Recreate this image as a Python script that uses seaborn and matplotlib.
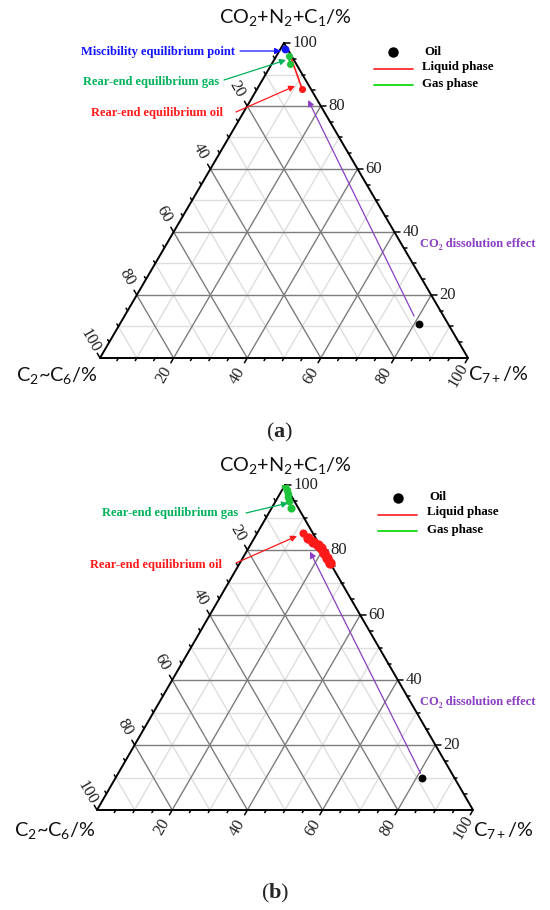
import numpy as np
import pandas as pd
import matplotlib
matplotlib.use("Agg")
import matplotlib.pyplot as plt
import seaborn as sns
from matplotlib.lines import Line2D

# ---------------- data (ternary %, T = CO2+N2+C1, L = C2~C6, R = C7+) -------------
tick_values = [20, 40, 60, 80, 100]
top_label = "CO$_2$+N$_2$+C$_1$/%"
left_label = "C$_2$~C$_6$/%"
right_label = "C$_{7+}$/%"

# panel (a)
a_oil_T, a_oil_L, a_oil_R = [10.8], [7.9], [81.3]
a_mep_T, a_mep_L, a_mep_R = [98.2], [0.6], [1.2]
a_gas_T, a_gas_L, a_gas_R = [95.9, 93.4], [0.7, 1.7], [3.4, 4.9]
a_liq_T, a_liq_L, a_liq_R = [94.9, 85.3], [0.5, 2.4], [4.6, 12.3]
a_co2_T, a_co2_L, a_co2_R = [13.3, 81.9], [8.0, 2.5], [78.7, 15.6]

# panel (b)
b_oil_T, b_oil_L, b_oil_R = [9.9], [8.5], [81.6]
b_gas_T = [99.7, 98.5, 97.2, 96.2, 95.2]
b_gas_L = [0.1, 0.3, 0.7, 1.0, 1.3]
b_gas_R = [0.2, 1.2, 2.1, 2.8, 3.5]
b_gasend_T, b_gasend_L, b_gasend_R = [92.8], [2.1], [5.1]
b_liqpt_T, b_liqpt_L, b_liqpt_R = [85.1], [2.6], [12.3]
b_liq_T = [83.6, 82.6, 81.5, 80.5, 79.0, 77.4, 75.9]
b_liq_L = [2.0, 1.2, 0.4, 0.1, 0.1, 0.1, 0.2]
b_liq_R = [14.4, 16.2, 18.1, 19.4, 20.9, 22.5, 23.9]
b_co2_T, b_co2_L, b_co2_R = [11.3, 79.5], [8.3, 3.6], [80.4, 16.9]

# ---------------- style ----------------
sns.set_theme(style="white")
plt.rcParams["font.family"] = ["Liberation Serif", "DejaVu Serif"]
plt.rcParams["mathtext.fontset"] = "custom"
plt.rcParams["mathtext.rm"] = "Lato"
plt.rcParams["mathtext.it"] = "Lato"
plt.rcParams["mathtext.bf"] = "Liberation Serif:bold"
plt.rcParams["mathtext.default"] = "rm"

W, H = 550, 910
fig = plt.figure(figsize=(5.5, 9.1), dpi=100)
S3 = np.sqrt(3) / 2

DARK = "#7d7d7d"
LIGHT = "#dedede"
RED = "#ff1a1a"
GREEN_PT = "#1fc43a"
GREEN_LN = "#00d400"
GREEN_TX = "#00b15a"
BLUE = "#1414ff"
PURPLE = "#8a3fc4"


def fx(x):
    return x / W


def fy(y):
    return 1 - y / H


def tern(T, L, R):
    T = np.asarray(T, float); L = np.asarray(L, float); R = np.asarray(R, float)
    s = T + L + R
    return (R + T / 2) / s, T / s * S3


def tdf(T, L, R):
    x, y = tern(T, L, R)
    return pd.DataFrame({"x": x, "y": y})


def make_ax(xl, xr, yb, yt):
    ax = fig.add_axes([xl / W, 1 - yb / H, (xr - xl) / W, (yb - yt) / H])
    ax.set_xlim(0, 1)
    ax.set_ylim(0, S3)
    ax.set_axis_off()
    ppx = xr - xl
    ppy = (yb - yt) / S3
    return ax, ppx, ppy


def frame(ax, ppx, ppy):
    # grid
    for lev, col, z in ((range(10, 100, 20), LIGHT, 1), (range(20, 100, 20), DARK, 2)):
        for v in lev:
            segs = [((v, 100 - v, 0), (v, 0, 100 - v)),
                    ((100 - v, 0, v), (0, 100 - v, v)),
                    ((100 - v, v, 0), (0, v, 100 - v))]
            for a, b in segs:
                x, y = tern([a[0], b[0]], [a[1], b[1]], [a[2], b[2]])
                ax.plot(x, y, color=col, lw=1.0, zorder=z, solid_capstyle="butt")
    # edges
    x, y = tern([100, 0, 0, 100], [0, 100, 0, 0], [0, 0, 100, 0])
    ax.plot(x, y, color="black", lw=1.4, zorder=3, clip_on=False)

    def off(p, ang):
        r = np.deg2rad(ang)
        return p * np.cos(r) / ppx, p * np.sin(r) / ppy

    for v in range(5, 101, 5):
        major = v % 20 == 0
        ln = 5.5 if major else 3.0
        bx, by = tern(v, 0, 100 - v)
        dx, dy = off(ln, 0)
        ax.plot([bx, bx + dx], [by, by + dy], color="black", lw=1.1, clip_on=False, zorder=3)
        bx2, by2 = tern(100 - v, v, 0)
        dx2, dy2 = off(ln, 120)
        ax.plot([bx2, bx2 + dx2], [by2, by2 + dy2], color="black", lw=1.1, clip_on=False, zorder=3)
        bx3, by3 = tern(0, 100 - v, v)
        dx3, dy3 = off(ln, 240)
        ax.plot([bx3, bx3 + dx3], [by3, by3 + dy3], color="black", lw=1.1, clip_on=False, zorder=3)
    for v in tick_values:
        bx, by = tern(v, 0, 100 - v)
        dx, dy = off(8, 0)
        ax.text(bx + dx, by + dy, str(v), ha="left", va="center", fontsize=12,
                color="#222222")
        bx2, by2 = tern(100 - v, v, 0)
        dx2, dy2 = off(20, 120)
        ax.text(bx2 + dx2, by2 + dy2, str(v), ha="center", va="center", fontsize=12,
                rotation=-60, rotation_mode="anchor", color="#222222")
        bx3, by3 = tern(0, 100 - v, v)
        dx3, dy3 = off(20, 240)
        ax.text(bx3 + dx3, by3 + dy3, str(v), ha="center", va="center", fontsize=12,
                rotation=60, rotation_mode="anchor", color="#222222")


def arrow(x0, y0, x1, y1, color):
    fig.add_artist(matplotlib.patches.FancyArrowPatch(
        (fx(x0), fy(y0)), (fx(x1), fy(y1)), transform=fig.transFigure,
        arrowstyle="-|>", mutation_scale=9, color=color, lw=0.9,
        shrinkA=0, shrinkB=0))


def ftext(x, y, s, color, ha="left", size=9.0, weight="bold", **kw):
    fig.text(fx(x), fy(y), s, color=color, ha=ha, va="center", fontsize=size,
             fontweight=weight, **kw)


def legend(xd, yd, xl0, xl1, yr, yg, xt, yto, ytl, ytg):
    fig.add_artist(Line2D([fx(xd)], [fy(yd)], marker="o", ms=6.5, color="black",
                          lw=0, transform=fig.transFigure))
    fig.add_artist(Line2D([fx(xl0), fx(xl1)], [fy(yr), fy(yr)], color=RED, lw=1.2,
                          transform=fig.transFigure))
    fig.add_artist(Line2D([fx(xl0), fx(xl1)], [fy(yg), fy(yg)], color=GREEN_LN, lw=1.2,
                          transform=fig.transFigure))
    ftext(xt + 2, yto, "Oil", "black", size=9.3)
    ftext(xt, ytl, "Liquid phase", "black", size=9.3)
    ftext(xt, ytg, "Gas phase", "black", size=9.3)


def corner_labels(cx, ty, lx, ly, rx, ry):
    kw = dict(va="baseline", fontsize=14.3, color="#111111", fontfamily="Lato")
    fig.text(fx(cx), fy(ty), top_label, ha="center", **kw)
    fig.text(fx(lx), fy(ly), left_label, ha="right", **kw)
    fig.text(fx(rx), fy(ry), right_label, ha="left", **kw)


# ================= panel (a) =================
axa, ppxa, ppya = make_ax(100, 468, 358, 43)
frame(axa, ppxa, ppya)
sns.lineplot(data=tdf(a_liq_T, a_liq_L, a_liq_R), x="x", y="y", sort=False, estimator=None,
             color=RED, lw=1.2, ax=axa, zorder=5, legend=False)
sns.lineplot(data=tdf(a_gas_T, a_gas_L, a_gas_R), x="x", y="y", sort=False, estimator=None,
             color=GREEN_PT, lw=1.6, ax=axa, zorder=5, legend=False)
sns.scatterplot(data=tdf(a_liq_T[-1:], a_liq_L[-1:], a_liq_R[-1:]), x="x", y="y",
                color=RED, s=26, linewidth=0, ax=axa, zorder=6, legend=False)
sns.scatterplot(data=tdf(a_gas_T, a_gas_L, a_gas_R), x="x", y="y",
                color=GREEN_PT, s=26, linewidth=0, ax=axa, zorder=6, legend=False)
sns.scatterplot(data=tdf(a_mep_T, a_mep_L, a_mep_R), x="x", y="y",
                color=BLUE, s=32, linewidth=0, ax=axa, zorder=7, legend=False)
sns.scatterplot(data=tdf(a_oil_T, a_oil_L, a_oil_R), x="x", y="y",
                color="black", s=32, linewidth=0, ax=axa, zorder=7, legend=False)
cx, cy = tern(a_co2_T, a_co2_L, a_co2_R)
axa.annotate("", xy=(cx[1], cy[1]), xytext=(cx[0], cy[0]),
             arrowprops=dict(arrowstyle="-|>", color=PURPLE, lw=0.9, mutation_scale=9,
                             shrinkA=0, shrinkB=0), zorder=4)

ftext(235, 52, "Miscibility equilibrium point", BLUE, ha="right")
arrow(240, 51, 281, 51, BLUE)
ftext(219, 82, "Rear-end equilibrium gas", GREEN_TX, ha="right")
arrow(224, 80, 286, 60, GREEN_TX)
ftext(223, 113, "Rear-end equilibrium oil", RED, ha="right")
arrow(236, 112, 295, 86, RED)
ftext(420, 244, "CO\u2082 dissolution effect", PURPLE, size=9.0)
legend(393, 52, 374, 413, 69, 85, 422, 52, 67, 84)
corner_labels(285, 23, 98, 381, 468, 380)
fig.text(fx(280), fy(432), r"($\mathbf{a}$)", ha="center", va="center", fontsize=16)

# ================= panel (b) =================
axb, ppxb, ppyb = make_ax(97, 473, 810, 485)
frame(axb, ppxb, ppyb)
sns.lineplot(data=tdf(b_gas_T, b_gas_L, b_gas_R), x="x", y="y", sort=False, estimator=None,
             color=GREEN_PT, lw=3.8, marker="o", ms=5.5, markeredgewidth=0, ax=axb,
             zorder=5, legend=False)
sns.scatterplot(data=tdf(b_gasend_T, b_gasend_L, b_gasend_R), x="x", y="y",
                color=GREEN_PT, s=34, linewidth=0, ax=axb, zorder=6, legend=False)
sns.lineplot(data=tdf(b_liq_T, b_liq_L, b_liq_R), x="x", y="y", sort=False, estimator=None,
             color=RED, lw=5.5, marker="o", ms=7.5, markeredgewidth=0, ax=axb,
             zorder=5, legend=False)
sns.scatterplot(data=tdf(b_liqpt_T, b_liqpt_L, b_liqpt_R), x="x", y="y",
                color=RED, s=34, linewidth=0, ax=axb, zorder=6, legend=False)
sns.scatterplot(data=tdf(b_oil_T, b_oil_L, b_oil_R), x="x", y="y",
                color="black", s=32, linewidth=0, ax=axb, zorder=7, legend=False)
cx, cy = tern(b_co2_T, b_co2_L, b_co2_R)
axb.annotate("", xy=(cx[1], cy[1]), xytext=(cx[0], cy[0]),
             arrowprops=dict(arrowstyle="-|>", color=PURPLE, lw=0.9, mutation_scale=9,
                             shrinkA=0, shrinkB=0), zorder=4)

ftext(238, 513, "Rear-end equilibrium gas", GREEN_TX, ha="right")
arrow(246, 513, 288, 503, GREEN_TX)
ftext(222, 565, "Rear-end equilibrium oil", RED, ha="right")
arrow(236, 563, 297, 536, RED)
ftext(420, 702, "CO\u2082 dissolution effect", PURPLE, size=9.0)
legend(398, 498, 378, 417, 515, 531, 427, 497, 512, 530)
corner_labels(285, 471, 96, 836, 473, 836)
fig.text(fx(275), fy(893), r"($\mathbf{b}$)", ha="center", va="center", fontsize=16)

fig.savefig("out.png", dpi=100, facecolor="white")
